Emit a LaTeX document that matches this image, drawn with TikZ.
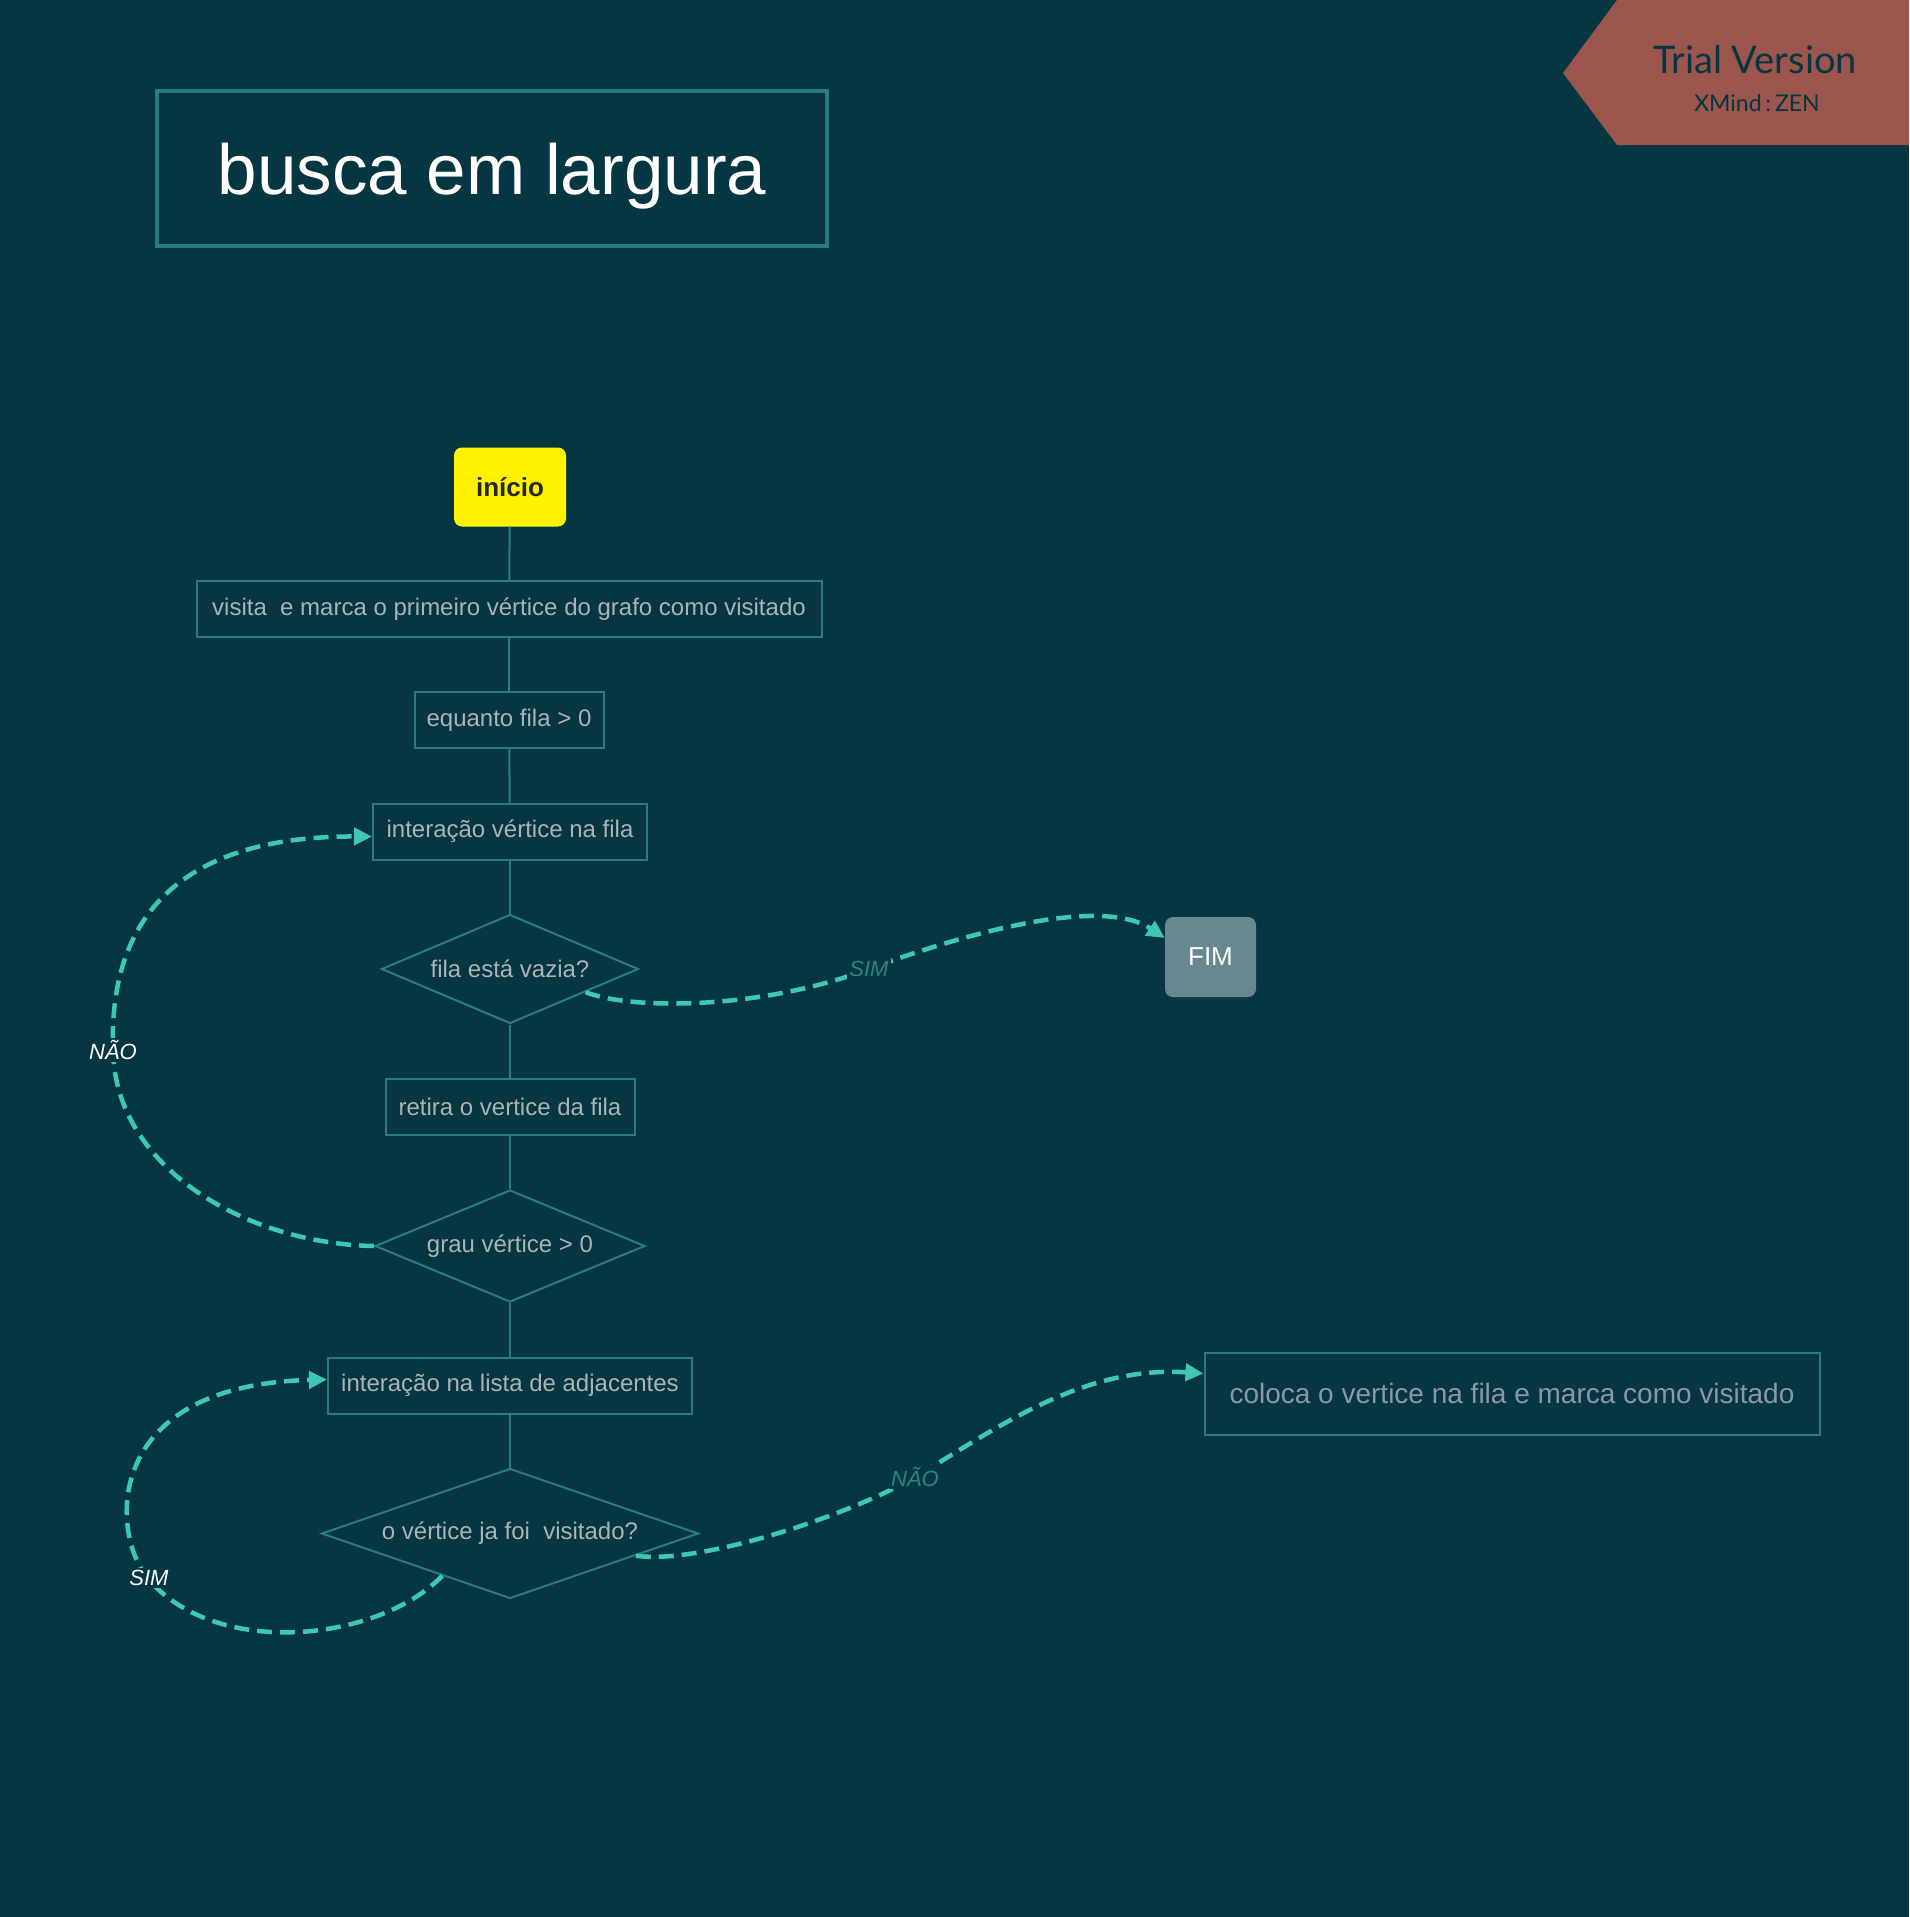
\documentclass[tikz,border=0pt]{standalone}
\usepackage{fontspec}
\setmainfont{Liberation Sans}
\newfontfamily\trialfont{Lato}
\usetikzlibrary{shapes.geometric,arrows.meta}
\definecolor{fundo}{HTML}{063642}
\definecolor{borda}{HTML}{2A7C7A}
\definecolor{texto}{HTML}{AAB4B4}
\definecolor{texto2}{HTML}{8A98A6}
\definecolor{seta}{HTML}{3CC8B2}
\definecolor{verdeclaro}{HTML}{2A857F}
\definecolor{faixa}{HTML}{9B554D}
\definecolor{cinza}{HTML}{688891}
\tikzset{
	caixa/.style={draw=borda, line width=2pt, text=texto, minimum height=56pt, inner sep=0pt, font=\fontsize{24}{28}\selectfont},
	losango/.style={diamond, aspect=3, draw=borda, line width=2pt, text=texto, inner sep=0pt, font=\fontsize{24}{28}\selectfont},
	liga/.style={draw=borda, line width=2pt},
	tracejado/.style={draw=seta, line width=4.5pt, dash pattern=on 15pt off 8pt, -{Triangle[length=18pt,width=17pt]}},
	etiqueta/.style={fill=fundo, inner sep=2pt, font=\fontsize{22}{26}\selectfont\itshape}
}
\begin{document}
\begin{tikzpicture}[x=1pt,y=-1pt]
		\fill[fundo] (0,0) rectangle (1909,1917);
		\useasboundingbox (0,0) rectangle (1909,1917);
		
		\fill[faixa] (1563,73) -- (1617,0) -- (1909,0) -- (1909,145) -- (1617,145) -- cycle;
		\node[text=fundo, font=\trialfont\fontsize{38}{44}\selectfont] (trial) at (1755,60) {Trial Version};
		\node[text=fundo, font=\trialfont\fontsize{23}{27}\selectfont] (xmind) at (1757,103) {XMind\,:\,ZEN};
		
		\node[draw=borda, line width=4pt, minimum width=670pt, minimum height=155pt, text=white, font=\fontsize{71}{80}\selectfont] (titulo) at (492,168.5) {\raisebox{-8pt}[\height][\depth]{busca em largura}};
		
		\node[fill=yellow, rounded corners=8pt, minimum width=112pt, minimum height=79pt, text=black!85, font=\bfseries\fontsize{26}{30}\selectfont] (inicio) at (510,487) {início};
		\node[caixa, minimum width=625pt] (visita) at (509,609) {visita\ \ e marca o primeiro vértice do grafo como visitado};
		\node[caixa, minimum width=189pt] (enquanto) at (509,720) {equanto fila > 0};
		\node[caixa, minimum width=274pt] (iterfila) at (510,831.5) {interação vértice na fila};
		\node[losango, minimum width=257pt, minimum height=109pt] (vazia) at (510,969) {fila está vazia?};
		\node[caixa, minimum width=249pt] (retira) at (510,1106.5) {retira o vertice da fila};
		\node[losango, minimum width=270pt, minimum height=112pt] (grau) at (510,1246) {grau vértice > 0};
		\node[caixa, minimum width=364pt] (iteradj) at (510,1385.5) {interação na lista de adjacentes};
		\node[losango, minimum width=377pt, minimum height=130pt] (visitado) at (510,1533.5) {o vértice ja foi\ \ visitado?};
		\node[fill=cinza, rounded corners=8pt, minimum width=91pt, minimum height=80pt, text=white, font=\fontsize{26}{30}\selectfont] (fim) at (1210.5,957) {FIM};
		\node[caixa, minimum width=615pt, minimum height=82pt, text=texto2, font=\fontsize{28}{32}\selectfont] (coloca) at (1512,1393.5) {coloca o vertice na fila e marca como visitado};
		
		\draw[liga] (inicio) -- (visita);
		\draw[liga] (visita) -- (enquanto);
		\draw[liga] (enquanto) -- (iterfila);
		\draw[liga] (iterfila) -- (vazia);
		\draw[liga] (vazia) -- (retira);
		\draw[liga] (retira) -- (grau);
		\draw[liga] (grau) -- (iteradj);
		\draw[liga] (iteradj) -- (visitado);
		
		\draw[tracejado] (vazia.-17) .. controls (630,1010) and (760,1010) .. (869,969) .. controls (960,935) and (1100,895) .. ([yshift=19pt]fim.west);
		\node[etiqueta, text=verdeclaro] (sim1) at (869,969) {SIM};
		
		\draw[tracejado] (grau.west) .. controls (250,1244) and (115,1170) .. (113,1050) .. controls (108,900) and (200,836) .. ([yshift=-5pt]iterfila.west);
		\node[etiqueta, text=white] (nao1) at (113,1050) {NÃO};
		
		\draw[tracejado] (visitado.212) .. controls (380,1640) and (220,1660) .. (149,1580) .. controls (110,1535) and (100,1385) .. ([yshift=6pt]iteradj.west);
		\node[etiqueta, text=white] (sim2) at (149,1578) {SIM};
		
		\draw[tracejado] (visitado.-10) .. controls (700,1565) and (850,1515) .. (915,1477) .. controls (990,1433) and (1080,1365) .. ([yshift=20pt]coloca.west);
		\node[etiqueta, text=verdeclaro] (nao2) at (915,1477) {NÃO};
	\end{tikzpicture}
\end{document}
